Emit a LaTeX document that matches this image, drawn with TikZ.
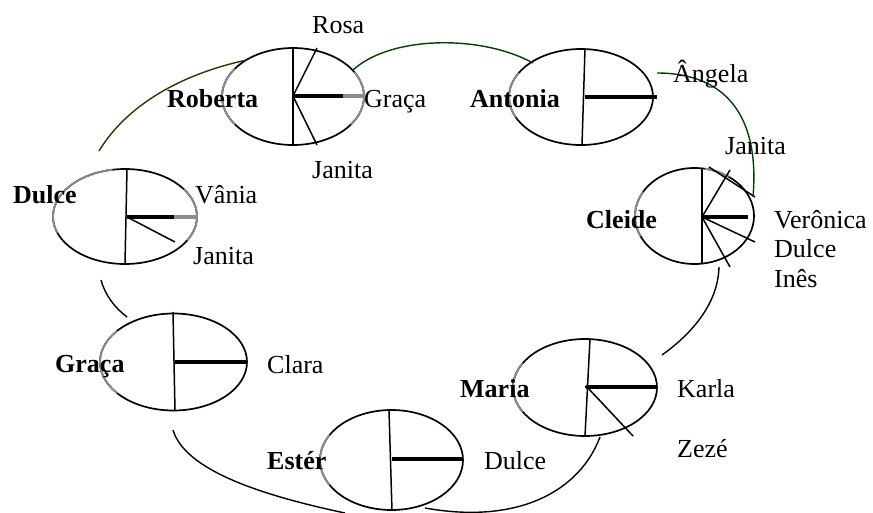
\documentclass[tikz,border=0pt]{standalone}
\usepackage{fontspec}
\setmainfont{Liberation Serif}
\usetikzlibrary{shapes.geometric,calc}
\definecolor{olivelink}{HTML}{333300}
\definecolor{greenlink}{HTML}{004000}
\definecolor{shade}{HTML}{8C8C8C}
\tikzset{
  pie/.style={ellipse, draw=black, line width=1.7pt, inner sep=0pt},
  divider/.style={draw=black, line width=1.5pt},
  spoke/.style={draw=black, line width=1.5pt},
  heavy/.style={draw=black, line width=3.4pt},
  heavygray/.style={draw=shade, line width=3.4pt},
  grayarc/.style={draw=shade, line width=1.7pt},
  link/.style={draw=black, line width=1.4pt},
  title/.style={inner sep=0pt, anchor=base west, font=\fontsize{26pt}{30pt}\selectfont\bfseries},
  lab/.style={inner sep=0pt, anchor=base west, font=\fontsize{26pt}{30pt}\selectfont}
}
\begin{document}
\begin{tikzpicture}[x=1pt,y=-1pt]
\useasboundingbox (0,0) rectangle (873,512);
% ellipses
\node[pie, minimum width=142pt, minimum height=97pt] (roberta) at (293,96.5) {};
\node[pie, minimum width=144pt, minimum height=96pt] (antonia) at (581,97) {};
\node[pie, minimum width=119pt, minimum height=96pt] (cleide) at (694.5,216) {};
\node[pie, minimum width=144pt, minimum height=95pt] (dulce) at (125,216.5) {};
\node[pie, minimum width=147pt, minimum height=97pt] (graca) at (173.5,362) {};
\node[pie, minimum width=143pt, minimum height=100pt] (ester) at (391.5,460) {};
\node[pie, minimum width=144pt, minimum height=97pt] (maria) at (585,387.5) {};
% gray parts of outlines
\draw[grayarc] ($(roberta.center)+(145:71pt and 48.5pt)$) arc[start angle=145,end angle=215,x radius=71pt,y radius=48.5pt];
\draw[grayarc] ($(roberta.center)+(-35:71pt and 48.5pt)$) arc[start angle=-35,end angle=30,x radius=71pt,y radius=48.5pt];
\draw[grayarc] ($(antonia.center)+(150:72pt and 48pt)$) arc[start angle=150,end angle=205,x radius=72pt,y radius=48pt];
\draw[grayarc] ($(cleide.center)+(150:59.5pt and 48pt)$) arc[start angle=150,end angle=205,x radius=59.5pt,y radius=48pt];
\draw[grayarc] ($(cleide.center)+(55:59.5pt and 48pt)$) arc[start angle=55,end angle=80,x radius=59.5pt,y radius=48pt];
\draw[grayarc] ($(dulce.center)+(100:72pt and 47.5pt)$) arc[start angle=100,end angle=200,x radius=72pt,y radius=47.5pt];
\draw[grayarc] ($(dulce.center)+(-30:72pt and 47.5pt)$) arc[start angle=-30,end angle=35,x radius=72pt,y radius=47.5pt];
\draw[grayarc] ($(graca.center)+(140:73.5pt and 48.5pt)$) arc[start angle=140,end angle=220,x radius=73.5pt,y radius=48.5pt];
\draw[grayarc] ($(ester.center)+(150:71.5pt and 50pt)$) arc[start angle=150,end angle=210,x radius=71.5pt,y radius=50pt];
\draw[grayarc] ($(maria.center)+(150:72pt and 48.5pt)$) arc[start angle=150,end angle=210,x radius=72pt,y radius=48.5pt];
% dividers and spokes
\coordinate (rc) at (293,96);
\draw[divider] (293,48) -- (293,145);
\draw[spoke] (rc) -- (317,48);
\draw[spoke] (rc) -- (317,145);
\draw[heavy] (rc) -- (343,96);
\draw[heavygray] (343,96) -- (364,96);

\coordinate (ac) at (585,97);
\draw[divider] (585,49) -- (582,145);
\draw[heavy] (ac) -- (657,97);

\coordinate (cc) at (702,217);
\draw[divider] (702,168) -- (702,264);
\draw[spoke] (cc) -- (730,170);
\draw[heavy] (cc) -- (748,217);
\draw[spoke] (cc) -- (755,242);
\draw[spoke] (cc) -- (730,267);
\draw[spoke] (709,167) -- (755,197);

\coordinate (dc) at (127,217);
\draw[divider] (127,169) -- (125,264);
\draw[heavy] (dc) -- (174,217);
\draw[heavygray] (174,217) -- (197,217);
\draw[spoke] (dc) -- (175,242);

\coordinate (gc) at (175,362);
\draw[divider] (173,312) -- (175,411);
\draw[heavy] (gc) -- (247,362);

\coordinate (ec) at (392,459);
\draw[divider] (389,410) -- (392,511);
\draw[heavy] (ec) -- (463,459);

\coordinate (mc) at (587,387);
\draw[divider] (590,339) -- (585,436);
\draw[heavy] (mc) -- (657,387);
\draw[spoke] (mc) -- (633,436);
\fill (mc) circle[radius=2pt];

% connectors
\coordinate (l1a) at (99,151);   \coordinate (l1b) at (247,60);
\coordinate (l2a) at (353,70);   \coordinate (l2b) at (533,63);
\coordinate (l3a) at (657,73);   \coordinate (l3b) at (753,197);
\coordinate (l4a) at (719,267);  \coordinate (l4b) at (662,355);
\coordinate (l5a) at (600,437);  \coordinate (l5b) at (425,508);
\coordinate (l6a) at (173,430);  \coordinate (l6b) at (345,513);
\coordinate (l7a) at (101,280);  \coordinate (l7b) at (127,317);
\draw[link, draw=olivelink] (l1a) .. controls (130,100) and (190,72) .. (l1b);
\draw[link, draw=greenlink] (l2a) .. controls (390,36) and (480,34) .. (l2b);
\draw[link, draw=greenlink] (l3a) .. controls (725,73) and (760,115) .. (l3b);
\draw[link] (l4a) .. controls (718,305) and (690,335) .. (l4b);
\draw[link] (l5a) .. controls (580,490) and (520,525) .. (l5b);
\draw[link] (l6a) .. controls (185,470) and (260,495) .. (l6b);
\draw[link] (l7a) .. controls (105,295) and (115,308) .. (l7b);

% labels
\node[lab]   (t1)  at (312,33)  {Rosa};
\node[title] (t2)  at (167,107) {Roberta};
\node[lab]   (t3)  at (364,107) {Graça};
\node[lab]   (t4)  at (312,178) {Janita};
\node[title] (t5)  at (470,107) {Antonia};
\node[lab]   (t6)  at (673,82)  {Ângela};
\node[lab]   (t7)  at (725,154) {Janita};
\node[title] (t8)  at (586,228) {Cleide};
\node[lab]   (t9)  at (774,228) {Verônica};
\node[lab]   (t10) at (774,257) {Dulce};
\node[lab]   (t11) at (774,287) {Inês};
\node[title] (t12) at (13,203)  {Dulce};
\node[lab]   (t13) at (195,203) {Vânia};
\node[lab]   (t14) at (193,264) {Janita};
\node[title] (t15) at (55,372)  {Graça};
\node[lab]   (t16) at (267,373) {Clara};
\node[title] (t17) at (460,397) {Maria};
\node[lab]   (t18) at (677,397) {Karla};
\node[lab]   (t19) at (677,457) {Zezé};
\node[title] (t20) at (267,469) {Estér};
\node[lab]   (t21) at (484,469) {Dulce};
\end{tikzpicture}
\end{document}
